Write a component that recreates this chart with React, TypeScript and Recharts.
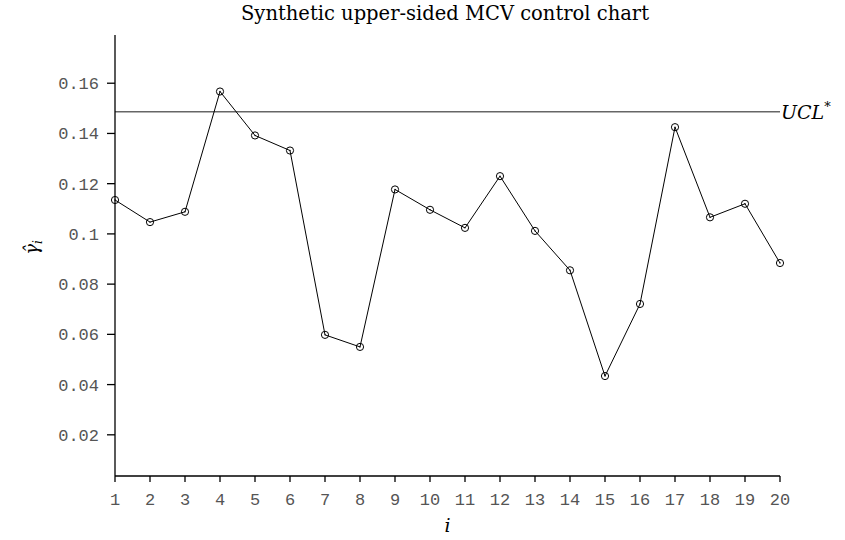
import { LineChart, Line, XAxis, YAxis, ReferenceLine, Label } from "recharts";

const SAMPLES = [1, 2, 3, 4, 5, 6, 7, 8, 9, 10, 11, 12, 13, 14, 15, 16, 17, 18, 19, 20];
const GAMMA_HAT = [
  0.1135, 0.1047, 0.1088, 0.1567, 0.1392, 0.1332, 0.0598, 0.055, 0.1177, 0.1096,
  0.1024, 0.123, 0.1012, 0.0855, 0.0434, 0.0721, 0.1425, 0.1066, 0.112, 0.0884,
];
const UCL = 0.1486;
const Y_TICKS = [0.02, 0.04, 0.06, 0.08, 0.1, 0.12, 0.14, 0.16];
const Y_DOMAIN = [0.0036, 0.1792];

const data = SAMPLES.map((i, k) => ({ i, g: GAMMA_HAT[k] }));

const MONO = "'Liberation Mono', 'DejaVu Sans Mono', monospace";
const SERIF = "'DejaVu Serif', 'Liberation Serif', serif";

const HollowDot = (props: any) => {
  const { cx, cy, index } = props;
  if (cx == null || cy == null) return null;
  return (
    <g key={`dot-${index}`}>
      <circle cx={cx} cy={cy} r={3.6} fill="none" stroke="#000" strokeWidth={1} />
      <circle cx={cx} cy={cy} r={0.7} fill="#000" />
    </g>
  );
};

const UclLabel = (props: any) => {
  const { viewBox } = props;
  return (
    <text
      x={viewBox.x + viewBox.width + 1}
      y={viewBox.y + 7}
      fontFamily={SERIF}
      fontStyle="italic"
      fontSize={19}
      fill="#000"
    >
      UCL
      <tspan dy={-8} fontSize={13}>*</tspan>
    </text>
  );
};

const YLabel = (props: any) => {
  const { viewBox } = props;
  const x = 38;
  const y = viewBox.y + viewBox.height / 2 - 8;
  return (
    <text
      x={x}
      y={y}
      transform={`rotate(-90 ${x} ${y})`}
      textAnchor="middle"
      fontFamily={SERIF}
      fontStyle="italic"
      fontSize={18}
      fill="#000"
    >
      γ̂
      <tspan dy={4} fontSize={12}>i</tspan>
    </text>
  );
};

export default function App() {
  return (
    <div style={{ position: "absolute", left: 0, top: 0, background: "#fff" }}>
      <LineChart
        width={845}
        height={540}
        data={data}
        margin={{ top: 35, right: 65, bottom: 24, left: 0 }}
      >
        <text
          x={445}
          y={20}
          textAnchor="middle"
          fontFamily={SERIF}
          fontSize={19.5}
          fill="#000"
        >
          Synthetic upper-sided MCV control chart
        </text>
        <XAxis
          dataKey="i"
          type="number"
          domain={[1, 20]}
          ticks={SAMPLES}
          interval={0}
          height={40}
          tickSize={6}
          tickMargin={11}
          stroke="#000"
          strokeWidth={1.3}
          tick={{ fontFamily: MONO, fontSize: 17, fill: "#555" }}
        >
          <Label
            value="i"
            position="insideBottom"
            offset={-16}
            style={{ fontFamily: SERIF, fontStyle: "italic", fontSize: 19, fill: "#000" }}
          />
        </XAxis>
        <YAxis
          type="number"
          domain={Y_DOMAIN}
          ticks={Y_TICKS}
          allowDataOverflow
          width={115}
          tickSize={8}
          tickMargin={8}
          stroke="#000"
          strokeWidth={1.3}
          tickFormatter={(v: number) => String(Number(v.toFixed(2)))}
          tick={{ fontFamily: MONO, fontSize: 17, fill: "#555" }}
        >
          <Label content={<YLabel />} />
        </YAxis>
        <ReferenceLine y={UCL} stroke="#666" strokeWidth={1.5} label={<UclLabel />} />
        <Line
          type="linear"
          dataKey="g"
          stroke="#000"
          strokeWidth={1}
          dot={<HollowDot />}
          activeDot={false}
          isAnimationActive={false}
        />
      </LineChart>
    </div>
  );
}
